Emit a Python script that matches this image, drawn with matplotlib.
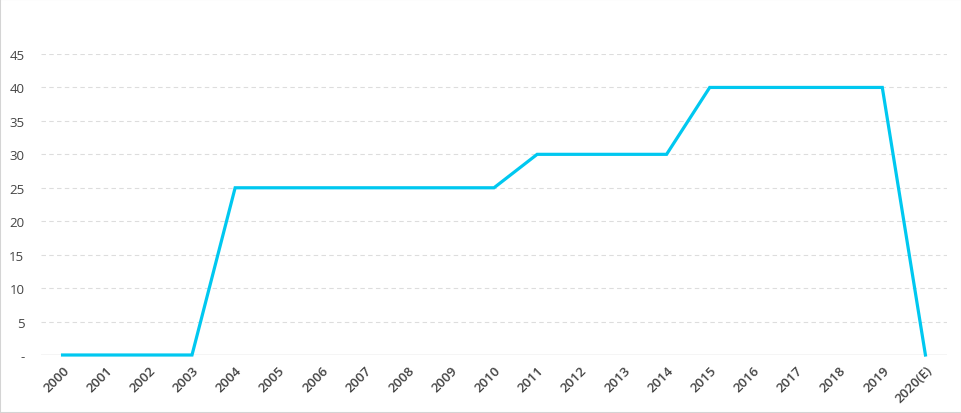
import matplotlib
matplotlib.use("Agg")
import matplotlib.pyplot as plt
from matplotlib.patches import Rectangle

# data
years = ["2000", "2001", "2002", "2003", "2004", "2005", "2006", "2007", "2008", "2009",
         "2010", "2011", "2012", "2013", "2014", "2015", "2016", "2017", "2018", "2019", "2020(E)"]
values = [0, 0, 0, 0, 25, 25, 25, 25, 25, 25, 25, 30, 30, 30, 30, 40, 40, 40, 40, 40, 0]
yticks = [0, 5, 10, 15, 20, 25, 30, 35, 40, 45]
ylabels = ["-", "5", "10", "15", "20", "25", "30", "35", "40", "45"]

plt.rcParams['font.family'] = ['Open Sans', 'DejaVu Sans']

fig = plt.figure(figsize=(9.62, 4.14), dpi=100)
ax = fig.add_axes([41/962, 1-356/414, (947-41)/962, (356-55)/414])

x = list(range(len(years)))
ax.plot(x, values, color="#00C8F0", lw=2.3, solid_joinstyle="miter", zorder=3, clip_on=False)

ax.set_xlim(-0.5, len(years)-0.5)
ax.set_ylim(0, 45)
ax.set_yticks(yticks)
ax.set_yticklabels(ylabels)
ax.set_xticks(x)
ax.set_xticklabels(years, rotation=45, ha="right", rotation_mode="anchor",
                   fontweight="semibold", fontsize=9.5)

for yv in yticks[1:]:
    ax.axhline(yv, color="#dddddd", lw=0.8, ls=(0, (4, 3)), zorder=1)
ax.axhline(0, color="#d0d0d0", lw=1.0, zorder=2)

for s in ax.spines.values():
    s.set_visible(False)
ax.tick_params(axis="y", length=0, labelsize=9.5, colors="#444444", pad=12)
ax.tick_params(axis="x", length=0, colors="#444444", pad=6)

fig.patches.append(Rectangle((0, 0), 1, 1, transform=fig.transFigure, fill=False,
                             edgecolor="#d4d4d4", lw=1.5))

fig.savefig("out.png", dpi=100)
